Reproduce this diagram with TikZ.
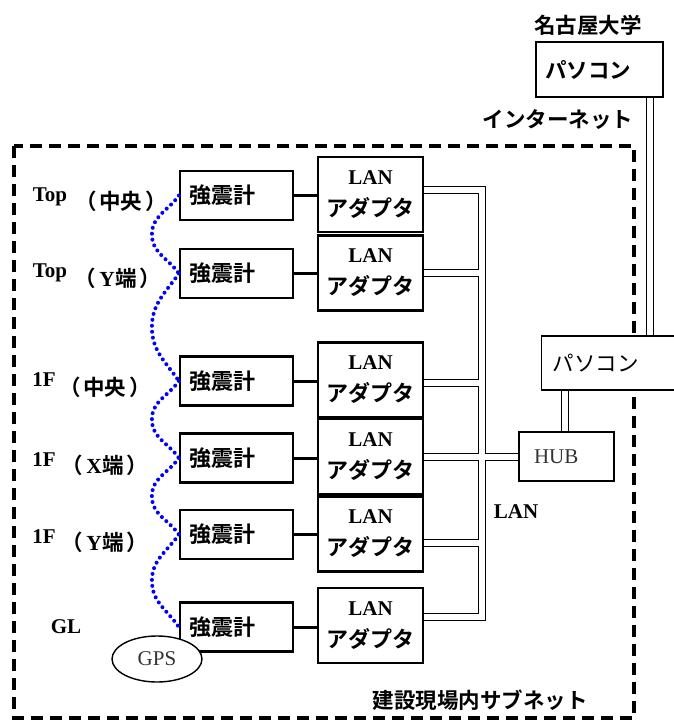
\documentclass[tikz,border=0pt]{standalone}
\usepackage{fontspec}
\setmainfont{Liberation Serif}
\newfontfamily\jpb{Noto Sans CJK JP Bold}
\newfontfamily\jpr{Noto Sans CJK JP}
\usetikzlibrary{calc,shapes.geometric,backgrounds}
\newcommand\opar{（\hspace{3pt}}
\newcommand\cpar{\hspace{3pt}）}
\begin{document}
\begin{tikzpicture}[x=1pt,y=-1pt,
  box/.style={draw, line width=2.2pt, fill=white, inner sep=0pt},
  sensor/.style={box, minimum width=113pt, minimum height=49pt, text width=95pt, inner xsep=9pt, align=left, font=\jpb\fontsize{22}{24}\selectfont},
  adapter/.style={box, minimum width=105pt, minimum height=75pt, align=center, font=\fontsize{21}{32}\selectfont},
  jplabel/.style={inner sep=0pt, font=\jpb\fontsize{21.5}{24}\selectfont},
  latlabel/.style={inner sep=0pt, font=\bfseries\fontsize{21}{24}\selectfont},
  cableout/.style={line width=8.5pt, black, line join=miter},
  cablein/.style={line width=5.3pt, white, line join=miter},
  bluedot/.style={blue, line width=4pt, line cap=round, dash pattern=on 0pt off 6pt},
  link/.style={line width=3pt}
]
\useasboundingbox (0,0) rectangle (673,725);

% sensors
\node[sensor] (s1) at (236.5,195.5) {強震計};
\node[sensor] (s2) at (236.5,273.5) {強震計};
\node[sensor] (s3) at (236.5,381) {強震計};
\node[sensor] (s4) at (236.5,458) {強震計};
\node[sensor] (s5) at (236.5,534.5) {強震計};
\node[sensor] (s6) at (236.5,627) {強震計};

% adapters
\node[adapter] (a1) at (370.5,194.5) {{\bfseries LAN}\\{\jpb\fontsize{22}{32}\selectfont アダプタ}};
\node[adapter] (a2) at (370.5,273) {{\bfseries LAN}\\{\jpb\fontsize{22}{32}\selectfont アダプタ}};
\node[adapter] (a3) at (370.5,380) {{\bfseries LAN}\\{\jpb\fontsize{22}{32}\selectfont アダプタ}};
\node[adapter] (a4) at (370.5,456.5) {{\bfseries LAN}\\{\jpb\fontsize{22}{32}\selectfont アダプタ}};
\node[adapter] (a5) at (370.5,534) {{\bfseries LAN}\\{\jpb\fontsize{22}{32}\selectfont アダプタ}};
\node[adapter] (a6) at (370.5,625.5) {{\bfseries LAN}\\{\jpb\fontsize{22}{32}\selectfont アダプタ}};

% sensor -> adapter links
\foreach \i in {1,...,6}{
  \draw[link] (s\i.east) -- (s\i.east -| a\i.west);
}

% HUB and PCs
\node[draw, line width=1.4pt, fill=white, minimum width=95pt, minimum height=49pt, text width=65pt, inner xsep=15pt, inner ysep=0pt, align=left, text=black!80, font=\fontsize{21}{24}\selectfont] (hub) at (566.5,456.5) {HUB};
\node[draw, line width=1.6pt, fill=white, minimum width=127pt, minimum height=54pt, text width=119pt, inner xsep=11pt, inner ysep=0pt, align=left, font=\jpr\fontsize{21.5}{24}\selectfont] (pc) at (612,363) {パソコン};
\node[draw, line width=2.2pt, fill=white, minimum width=127pt, minimum height=55pt, text width=109pt, inner xsep=9pt, inner ysep=0pt, align=left, font=\jpb\fontsize{21.5}{24}\selectfont] (nupc) at (599.5,69.5) {\raisebox{-3pt}{パソコン}};

% GPS
\node[ellipse, draw, line width=1.4pt, fill=white, minimum width=90pt, minimum height=46pt, inner sep=0pt, text=black!80, font=\fontsize{21}{24}\selectfont] (gps) at (157,659) {GPS};

% labels
\node[jplabel] (nu) at (588,25) {名古屋大学};
\node[jplabel] (inet) at (558,120) {インターネット};
\node[jplabel] (sub) at (480,700) {建設現場内サブネット};
\node[latlabel] (lan) at (516,512) {LAN};

\node[latlabel] (l1a) at (50,197) {Top};
\node[jplabel] (l1b) at (121,201) {\opar 中央\cpar};
\node[latlabel] (l2a) at (50,273) {Top};
\node[jplabel] (l2b) at (118,278) {\opar{\rmfamily\bfseries Y}端\cpar};
\node[latlabel] (l3a) at (44,380) {1F};
\node[jplabel] (l3b) at (105,387) {\opar 中央\cpar};
\node[latlabel] (l4a) at (44,460) {1F};
\node[jplabel] (l4b) at (105,465) {\opar{\rmfamily\bfseries X}端\cpar};
\node[latlabel] (l5a) at (44,537) {1F};
\node[jplabel] (l5b) at (105,542) {\opar{\rmfamily\bfseries Y}端\cpar};
\node[latlabel] (l6a) at (66,627) {GL};

% blue dotted chain
\foreach \i/\j in {1/2,2/3,3/4,4/5,5/6}{
  \draw[bluedot] (s\i.west) to[out=235,in=90] ($(s\i.west)!.5!(s\j.west)+(-27,0)$) to[out=270,in=125] (s\j.west);
}

% background: dashed frame and cables
\coordinate (t1) at (482,190);
\coordinate (t2) at (482,273);
\coordinate (t3) at (482,383);
\coordinate (t4) at (482,457);
\coordinate (t5) at (482,543);
\coordinate (t6) at (482,617);
\coordinate (th) at (482,457);
\begin{pgfonlayer}{background}
  \draw[line width=3.6pt, dash pattern=on 12pt off 7pt] (14,146) rectangle (634,718);
  \foreach \st in {cableout,cablein}{
    \draw[\st] (a1.east |- t1) -- (t1) -- (t6) -- (a6.east |- t6);
    \draw[\st] (a2.east |- t2) -- (t2);
    \draw[\st] (a3.east |- t3) -- (t3);
    \draw[\st] (a4.east |- t4) -- (t4);
    \draw[\st] (a5.east |- t5) -- (t5);
    \draw[\st] (th) -- (hub.west |- th);
    \draw[\st] (hub.north -| 565,0) -- (pc.south -| 565,0);
    \draw[\st] (nupc.south -| 650,0) -- (pc.north -| 650,0);
  }
\end{pgfonlayer}
\end{tikzpicture}
\end{document}
